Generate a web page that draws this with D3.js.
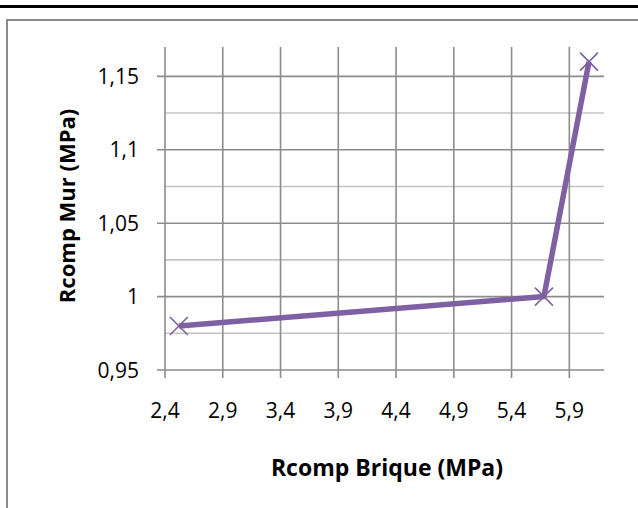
<!DOCTYPE html>
<html>
<head>
<meta charset="utf-8">
<script src="https://cdn.jsdelivr.net/npm/d3@7"></script>
<style>
  html, body { margin: 0; padding: 0; background: #fff; }
  svg { display: block; }
</style>
</head>
<body>
<svg id="chart" width="638" height="508"></svg>
<script>
// ---- data ----
const brique = [2.52, 5.68, 6.07];
const mur = [0.98, 1.0, 1.16];
const xTicks = [2.4, 2.9, 3.4, 3.9, 4.4, 4.9, 5.4, 5.9];
const yTicks = [0.95, 1.0, 1.05, 1.1, 1.15];
const yMinorTicks = [0.975, 1.025, 1.075, 1.125];
const xTitle = "Rcomp Brique (MPa)";
const yTitle = "Rcomp Mur (MPa)";

const svg = d3.select("#chart");
const W = 638, H = 508;
const font = "'Open Sans', 'Liberation Sans', sans-serif";
const fmt = v => String(+v.toFixed(2)).replace(".", ",");

// page decorations
svg.append("rect").attr("x", 0).attr("y", 5).attr("width", W).attr("height", 3).attr("fill", "#000");
svg.append("path").attr("d", `M7,${H} V20 H${W}`).attr("fill", "none")
  .attr("stroke", "#8a8a8a").attr("stroke-width", 2);

const x = d3.scaleLinear().domain([2.4, 6.2]).range([165, 604]);
const y = d3.scaleLinear().domain([0.95, 1.17]).range([370, 47]);

const grid = svg.append("g");
// minor horizontal
grid.selectAll("line.minor").data(yMinorTicks).enter().append("line")
  .attr("x1", x.range()[0]).attr("x2", x.range()[1])
  .attr("y1", d => y(d)).attr("y2", d => y(d))
  .attr("stroke", "#c4c4c4").attr("stroke-width", 1.6);
// major horizontal
grid.selectAll("line.hmaj").data(yTicks).enter().append("line")
  .attr("x1", x.range()[0] - 8).attr("x2", x.range()[1])
  .attr("y1", d => y(d)).attr("y2", d => y(d))
  .attr("stroke", "#8c8c8c").attr("stroke-width", 1.6);
// vertical
grid.selectAll("line.v").data(xTicks).enter().append("line")
  .attr("x1", d => x(d)).attr("x2", d => x(d))
  .attr("y1", y.range()[1]).attr("y2", y.range()[0] + 8)
  .attr("stroke", "#8c8c8c").attr("stroke-width", 1.6);

// tick labels
svg.append("g").selectAll("text").data(yTicks).enter().append("text")
  .attr("x", 139).attr("y", d => y(d)).attr("dy", "0.36em")
  .attr("text-anchor", "end").attr("font-family", font).attr("font-size", 21)
  .attr("fill", "#000").text(fmt);
svg.append("g").selectAll("text").data(xTicks).enter().append("text")
  .attr("x", d => x(d)).attr("y", 418)
  .attr("text-anchor", "middle").attr("font-family", font).attr("font-size", 21)
  .attr("fill", "#000").text(fmt);

// titles
svg.append("text").attr("x", 387).attr("y", 476).attr("text-anchor", "middle")
  .attr("font-family", font).attr("font-weight", "bold").attr("font-size", 23)
  .text(xTitle);
svg.append("text").attr("transform", "translate(75,206) rotate(-90)")
  .attr("text-anchor", "middle")
  .attr("font-family", font).attr("font-weight", "bold").attr("font-size", 22)
  .text(yTitle);

// line
const pts = brique.map((b, i) => [b, mur[i]]);
const color = "#7f60a2";
svg.append("path").datum(pts)
  .attr("d", d3.line().x(d => x(d[0])).y(d => y(d[1])))
  .attr("fill", "none").attr("stroke", color).attr("stroke-width", 5.5)
  .attr("stroke-linejoin", "round");

// X markers
const s = 9;
svg.append("g").selectAll("path").data(pts).enter().append("path")
  .attr("d", d => {
    const cx = x(d[0]), cy = y(d[1]);
    return `M${cx - s},${cy - s}L${cx + s},${cy + s}M${cx - s},${cy + s}L${cx + s},${cy - s}`;
  })
  .attr("stroke", color).attr("stroke-width", 1.6).attr("fill", "none");
</script>
</body>
</html>
